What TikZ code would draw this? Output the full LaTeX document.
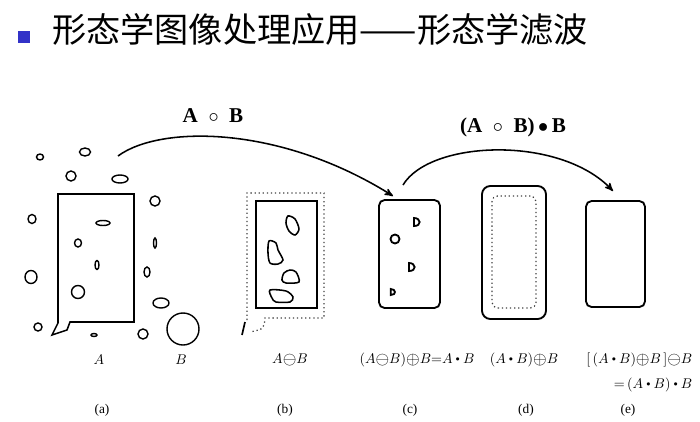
\documentclass[tikz,border=0pt]{standalone}
\usepackage{amsmath}
\usepackage{amssymb}
\usepackage{fontspec}
\setmainfont{Liberation Serif}
\newfontfamily\cjk{Noto Sans CJK SC}
\usetikzlibrary{arrows,calc,positioning}
\definecolor{kvadblaa}{RGB}{50,50,200}
\newcommand{\pkt}{\mathbin{\vcenter{\hbox{\scalebox{0.6}{$\bullet$}}}}}
\newcommand{\opl}{\mathord{\vcenter{\hbox{\scalebox{1.25}{$\oplus$}}}}}
\newcommand{\omi}{\mathord{\vcenter{\hbox{\scalebox{1.25}{$\ominus$}}}}}
\tikzset{
    >=stealth',
    kasse/.style={
           draw=black, line width=1.3pt,
           rounded corners=4pt,
           inner sep=0pt},
    prik/.style={
           draw=black!75, dotted,
           line width=0.9pt},
    korn/.style={
           draw=black, line width=1pt},
    bue/.style={
           ->,
           line width=1.1pt},
    navn/.style={
           font=\fontsize{10}{12}\selectfont,
           inner sep=1pt},
    fig/.style={
           font=\fontsize{9.5}{11}\selectfont,
           inner sep=1pt}
}

\begin{document}
\begin{tikzpicture}[x=0.025cm, y=-0.025cm]
        \useasboundingbox (0,0) rectangle (700,422);

        % title
        \node[fill=kvadblaa, minimum size=0.3cm, inner sep=0pt] (kvad) at (24,37) {};
        \node[anchor=west, inner sep=0pt, font=\cjk\fontsize{24.3}{27}\selectfont] (titel) at (52,29) {形态学图像处理应用——形态学滤波};

        % (a) A with noise grains, and B
        \draw[korn, line width=1.1pt] (70,322) -- (134,322) -- (134,194) -- (58,194) -- (58,323)
              -- (52,335) -- (67,330) -- cycle;
        \foreach \x/\y/\a/\b in {40/157/3.5/3, 85/152/5.5/4, 71/176/5/5, 120/179/8/4,
                155/201/5/5, 32/219/4/4.5, 103/223/7/2.5, 78/243/3.5/4, 155/243/1.5/5,
                97/265/2/4.5, 147/272/3/5, 31/277/6/6.5, 78/292/6.5/6.5, 161/303/8/5,
                38/327/4/4, 94/335/3/1.5, 143/334/5/5}
            \draw[korn] (\x,\y) ellipse [x radius=\a, y radius=\b];
        \node[circle, draw, line width=1pt, minimum size=0.8cm, inner sep=0pt] (B) at (183,329) {};

        % (b) erosion
        \node[kasse, rounded corners=0pt, line width=1.6pt, minimum width=1.525cm, minimum height=2.675cm] (bInd) at (286.5,254.5) {};
        \draw[prik] (247,320) -- (247,193) -- (324,193) -- (324,318) -- (265,318) .. controls (264,329) .. (250,332);
        \draw[korn, line width=1.2pt] (245,322) -- (242,335);
        \draw[korn, line width=1.1pt] plot[smooth cycle] coordinates {(288,216) (295,219) (299,229) (295,235) (289,231) (286,223)};
        \draw[korn, line width=1.1pt] plot[smooth cycle] coordinates {(269,241) (276,243) (278,250) (283,260) (278,264) (270,263) (268,253)};
        \draw[korn, line width=1.1pt] plot[smooth cycle] coordinates {(282,280) (284,273) (290,270) (296,272) (299,282) (286,283)};
        \draw[korn, line width=1.1pt] plot[smooth cycle] coordinates {(270,290) (286,291) (293,297) (290,302) (276,302) (272,298)};

        % (c) opening
        \node[kasse, minimum width=1.525cm, minimum height=2.7cm] (c) at (409.5,254) {};
        \foreach \x/\y/\s in {417/222/1, 412/267/1, 393/292/0.75}
            \draw[korn, line width=1.3pt, shift={(\x,\y)}, scale=\s] (-3,-4) .. controls (4,-4) and (5,4) .. (-3,4) -- cycle;
        \draw[korn, line width=1.3pt] (395,239) circle [radius=4.5];

        % (d) dilation
        \node[kasse, rounded corners=6pt, minimum width=1.6cm, minimum height=3.325cm] (d) at (514,252.5) {};
        \node[prik, rounded corners=4pt, minimum width=1.1cm, minimum height=2.8cm, inner sep=0pt] (dInd) at (514,252) {};

        % (e) closing
        \node[kasse, minimum width=1.475cm, minimum height=2.65cm] (e) at (615.5,254) {};

        % arcs
        \coordinate (s1) at (118,156);
        \coordinate (e1) at (393,196);
        \coordinate (s2) at (403,185);
        \coordinate (e2) at (613,191);
        \draw[bue] (s1) .. controls (160,125) and (280,125) .. (e1);
        \draw[bue] (s2) .. controls (430,140) and (560,135) .. (e2);
        \node[font=\fontsize{15}{17}\selectfont\bfseries] (op1) at (213,116) {A \ $\circ$ \ B};
        \node[font=\fontsize{15}{17}\selectfont\bfseries] (op2) at (513,127) {(A \ $\circ$ \ B)\,$\bullet$\,B};

        % names
        \node[navn] (nA) at (99,360) {$A$};
        \node[navn] (nB) at (181,360) {$B$};
        \node[navn] (nb) at (290,360) {$A\omi B$};
        \node[navn] (nc) at (417,360) {$(A\omi B)\opl B{=}A\pkt B$};
        \node[navn] (nd) at (524,360) {$(A\pkt B)\opl B$};
        \node[navn, anchor=east] (ne1) at (694,360) {$[\,(A\pkt B)\opl B\,]\omi B$};
        \node[navn, anchor=east] (ne2) at (694,385) {${=}\,(A\pkt B)\pkt B$};

        \node[fig] (fa) at (102,410) {(a)};
        \node[fig] (fb) at (285,410) {(b)};
        \node[fig] (fc) at (410,410) {(c)};
        \node[fig] (fd) at (526,410) {(d)};
        \node[fig] (fe) at (628,410) {(e)};
\end{tikzpicture}
\end{document}
